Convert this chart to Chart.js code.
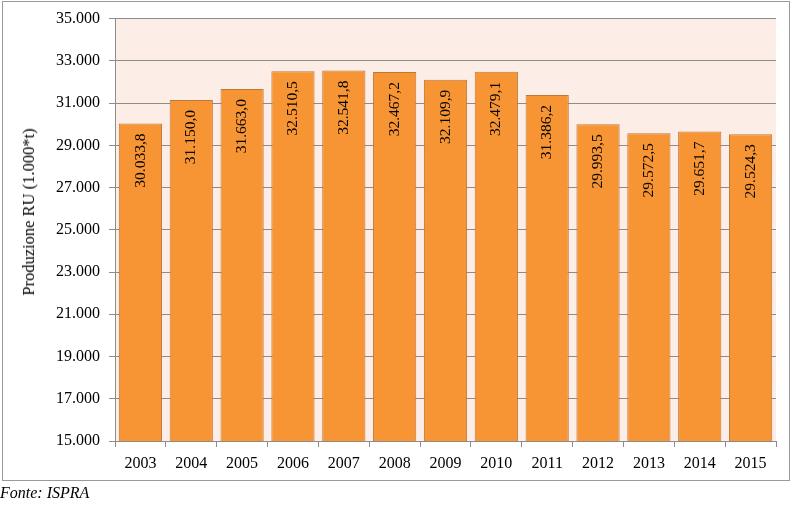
<!DOCTYPE html>
<html>
<head>
<meta charset="utf-8">
<script src="https://cdn.jsdelivr.net/npm/chart.js@4.4.1/dist/chart.umd.min.js"></script>
<style>
  html, body { margin: 0; padding: 0; background: #fff; width: 794px; height: 505px; overflow: hidden; }
  #frame { position: absolute; left: 2px; top: 1px; width: 788px; height: 480px; border: 1.5px solid #9a9a9a; box-sizing: border-box; }
  #wrap { position: absolute; left: 0; top: 0; width: 794px; height: 505px; }
  #ytitle { position: absolute; left: 29px; top: 212px; transform: translate(-50%, -50%) rotate(-90deg); white-space: nowrap;
            font-family: "Liberation Serif", "DejaVu Serif", serif; font-size: 16.5px; color: #000; }
  #source { position: absolute; left: 0px; top: 484px; font-family: "Liberation Serif", serif; font-style: italic; font-size: 16px; color: #000; }
</style>
</head>
<body>
<div id="frame"></div>
<div id="wrap"><canvas id="c" width="794" height="505"></canvas></div>
<div id="ytitle">Produzione RU (1.000*t)</div>
<div id="source">Fonte: ISPRA</div>
<script>
const years = ["2003","2004","2005","2006","2007","2008","2009","2010","2011","2012","2013","2014","2015"];
const production = [30033.8, 31150.0, 31663.0, 32510.5, 32541.8, 32467.2, 32109.9, 32479.1, 31386.2, 29993.5, 29572.5, 29651.7, 29524.3];
const yMin = 15000, yMax = 35000, yStep = 2000;

function groupThousands(intStr) {
  return intStr.replace(/\B(?=(\d{3})+(?!\d))/g, ".");
}
function fmtValue(v) {
  const s = v.toFixed(1);
  const parts = s.split(".");
  return groupThousands(parts[0]) + "," + parts[1];
}
function fmtTick(v) {
  return groupThousands(String(Math.round(v)));
}

const SERIF = '"Liberation Serif", "DejaVu Serif", serif';

const plotBg = {
  id: 'plotBg',
  beforeDraw(chart) {
    const a = chart.chartArea, ctx = chart.ctx;
    ctx.save();
    ctx.fillStyle = '#fdede7';
    ctx.fillRect(a.left, a.top, a.right - a.left, a.bottom - a.top);
    ctx.restore();
  }
};

const barLabels = {
  id: 'barLabels',
  afterDatasetsDraw(chart) {
    const ctx = chart.ctx;
    const meta = chart.getDatasetMeta(0);
    ctx.save();
    ctx.fillStyle = '#000';
    ctx.font = '15.5px ' + SERIF;
    ctx.textAlign = 'right';
    ctx.textBaseline = 'middle';
    meta.data.forEach((bar, i) => {
      ctx.save();
      ctx.translate(bar.x, bar.y + 10);
      ctx.rotate(-Math.PI / 2);
      ctx.fillText(fmtValue(production[i]), 0, 0);
      ctx.restore();
    });
    ctx.restore();
  }
};

new Chart(document.getElementById('c'), {
  type: 'bar',
  data: {
    labels: years,
    datasets: [{
      data: production,
      backgroundColor: '#f79433',
      borderColor: '#c0773a',
      borderWidth: 1,
      barPercentage: 0.85,
      categoryPercentage: 1.0
    }]
  },
  options: {
    responsive: false,
    animation: false,
    devicePixelRatio: 1,
    layout: { padding: { top: 18, right: 18, left: 0, bottom: 0 } },
    plugins: { legend: { display: false }, tooltip: { enabled: false }, title: { display: false } },
    scales: {
      x: {
        offset: true,
        grid: { display: true, drawOnChartArea: false, offset: true, color: '#8c8c8c', tickLength: 6 },
        border: { display: true, color: '#8c8c8c', width: 1 },
        ticks: { color: '#000', font: { family: SERIF, size: 16 }, padding: 7, maxRotation: 0, autoSkip: false },
        afterFit(scale) { scale.height = 64; }
      },
      y: {
        min: yMin, max: yMax,
        grid: { color: '#8c8c8c', tickLength: 6, lineWidth: 1 },
        border: { display: true, color: '#8c8c8c', width: 1 },
        ticks: { stepSize: yStep, color: '#000', font: { family: SERIF, size: 16 }, padding: 9,
                 callback: (v) => fmtTick(v) },
        afterFit(scale) { scale.width = 115; }
      }
    }
  },
  plugins: [plotBg, barLabels]
});
</script>
</body>
</html>
